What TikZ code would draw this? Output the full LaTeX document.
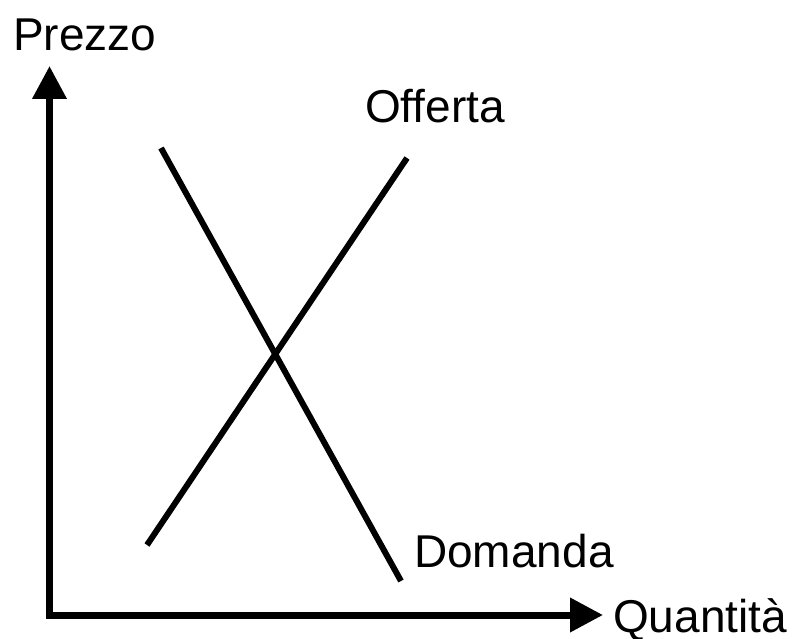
\documentclass[tikz,border=0pt]{standalone}
\usepackage{fontspec}
\setmainfont{Liberation Sans}
\usetikzlibrary{arrows.meta}
\begin{document}
\begin{tikzpicture}[x=1pt,y=-1pt,
  axistip/.style={Triangle[length=33pt,width=33pt]},
  curve/.style={line width=6pt},
  lbl/.style={inner sep=0pt,anchor=base west,font=\fontsize{46}{50}\selectfont}]
\useasboundingbox (0,0) rectangle (800,639);
\coordinate (top) at (49.5,66);
\coordinate (origin) at (49.5,615);
\coordinate (right) at (603,615);
\draw[line width=7pt,line join=miter,{Triangle[length=33pt,width=33pt]}-{Triangle[length=33pt,width=33pt]}] (top) -- (origin) -- (right);
\coordinate (d1) at (161,148);
\coordinate (d2) at (401,581);
\coordinate (s1) at (147,545);
\coordinate (s2) at (407,158);
\draw[curve] (d1) -- (d2);
\draw[curve] (s1) -- (s2);
\node[lbl] (prezzo) at (13,51) {Prezzo};
\node[lbl] (offerta) at (365,123) {Offerta};
\node[lbl] (domanda) at (414,567) {Domanda};
\node[lbl] (quantita) at (613,632) {Quantità};
\end{tikzpicture}
\end{document}
